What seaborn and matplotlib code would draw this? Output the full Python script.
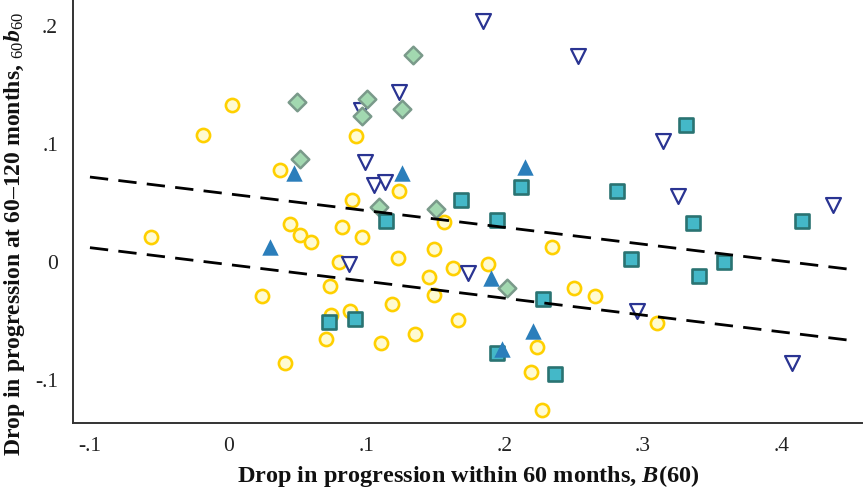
import matplotlib
matplotlib.use("Agg")
import matplotlib.pyplot as plt
import seaborn as sns
import numpy as np
import pandas as pd

# ---- data: B(60) on x, 60b60 on y, one pair of lists per marker group ----
circle_x = [-0.0559, -0.0179, 0.0029, 0.0371, 0.0897, 0.1234, 0.0923, 0.0449, 0.0521,
            0.0598, 0.0820, 0.0970, 0.0801, 0.0733, 0.0241, 0.1486, 0.1230, 0.1628,
            0.1454, 0.1486, 0.1183, 0.0743, 0.0878, 0.1664, 0.0706, 0.1353, 0.1107,
            0.0410, 0.1558, 0.1876, 0.2339, 0.2504, 0.2650, 0.3099, 0.2231, 0.2192,
            0.2270]
circle_y = [0.0213, 0.1073, 0.1327, 0.0779, 0.0522, 0.0596, 0.1064, 0.0319, 0.0226,
            0.0164, 0.0290, 0.0212, -0.0005, -0.0203, -0.0293, 0.0105, 0.0029, -0.0051,
            -0.0132, -0.0282, -0.0361, -0.0454, -0.0417, -0.0494, -0.0655, -0.0610, -0.0691,
            -0.0855, 0.0334, -0.0022, 0.0127, -0.0225, -0.0290, -0.0522, -0.0725, -0.0934,
            -0.1256]

tri_down_x = [0.1840, 0.2533, 0.1237, 0.0957, 0.0991, 0.1053, 0.1136, 0.3143, 0.3256,
              0.4374, 0.0873, 0.1734, 0.2957, 0.4079]
tri_down_y = [0.2042, 0.1744, 0.1439, 0.1285, 0.0844, 0.0652, 0.0672, 0.1025, 0.0556,
              0.0478, -0.0019, -0.0093, -0.0415, -0.0858]

diamond_x = [0.1336, 0.0494, 0.1006, 0.0970, 0.1257, 0.0521, 0.1088, 0.1501, 0.2017]
diamond_y = [0.1748, 0.1350, 0.1375, 0.1234, 0.1296, 0.0872, 0.0466, 0.0446, -0.0225]

square_x = [0.1682, 0.1141, 0.2118, 0.1944, 0.2813, 0.3314, 0.3362, 0.4151, 0.2914,
            0.3589, 0.3406, 0.2277, 0.0731, 0.0919, 0.1946, 0.2364]
square_y = [0.0522, 0.0345, 0.0635, 0.0353, 0.0601, 0.1160, 0.0330, 0.0347, 0.0023,
            -0.0003, -0.0121, -0.0318, -0.0509, -0.0485, -0.0771, -0.0949]

tri_up_x = [0.0475, 0.1259, 0.2149, 0.0304, 0.1901, 0.2207, 0.1978]
tri_up_y = [0.0749, 0.0754, 0.0804, 0.0127, -0.0134, -0.0589, -0.0737]

# fitted lines (end points)
fit_x = [-0.1, 0.448]
fit_upper = [0.0717, -0.0062]
fit_lower = [0.0119, -0.0663]

x_ticks = [-0.1, 0.0, 0.1, 0.2, 0.3, 0.4]
x_tick_labels = ["-.1", "0", ".1", ".2", ".3", ".4"]
y_ticks = [-0.1, 0.0, 0.1, 0.2]
y_tick_labels = ["-.1", "0", ".1", ".2"]

# ---- style ----
sns.set_theme(style="white")
plt.rcParams["font.family"] = ["Liberation Serif", "DejaVu Serif"]
plt.rcParams["mathtext.fontset"] = "custom"
plt.rcParams["mathtext.rm"] = "Liberation Serif"
plt.rcParams["mathtext.it"] = "Liberation Serif:italic"
plt.rcParams["mathtext.bf"] = "Liberation Serif:bold"
plt.rcParams["mathtext.bfit"] = "Liberation Serif:italic:bold"

fig = plt.figure(figsize=(8.64, 4.96), dpi=100)
ax = fig.add_axes([0.0849, 0.1466, 0.913, 0.8534])

groups = [
    (circle_x, circle_y, "o", 90, "#FFFBD2", "#FFD000", 1.9),
    (tri_down_x, tri_down_y, "v", 115, "#FFFFFF", "#2A3492", 1.6),
    (diamond_x, diamond_y, "D", 80, "#A2D8B0", "#7A9A8A", 1.8),
    (square_x, square_y, "s", 100, "#44B8C8", "#2A7372", 1.9),
    (tri_up_x, tri_up_y, "^", 140, "#2B7EBB", "#2B7EBB", 0.0),
]
for gx, gy, mk, size, face, edge, lw in groups:
    df = pd.DataFrame({"x": gx, "y": gy})
    sns.scatterplot(data=df, x="x", y="y", marker=mk, s=size, color=face,
                    edgecolor=edge, linewidth=lw, ax=ax, legend=False, zorder=3)

for fy in (fit_upper, fit_lower):
    line_df = pd.DataFrame({"x": fit_x, "y": fy})
    sns.lineplot(data=line_df, x="x", y="y", color="black", linewidth=2.0,
                 linestyle=(0, (6.6, 3.7)), ax=ax, zorder=4)

ax.set_xlim(-0.112, 0.4585)
ax.set_ylim(-0.1368, 0.2216)
ax.set_xticks(x_ticks)
ax.set_xticklabels(x_tick_labels)
ax.set_yticks(y_ticks)
ax.set_yticklabels(y_tick_labels)
ax.tick_params(axis="both", direction="out", length=7, width=1.2, color="#333333",
               labelsize=15.5, pad=4, labelcolor="#222222")
ax.tick_params(axis="x", pad=3)

for side in ("top", "right"):
    ax.spines[side].set_visible(False)
for side in ("left", "bottom"):
    ax.spines[side].set_color("#333333")
    ax.spines[side].set_linewidth(1.4)

ax.set_xlabel(r"Drop in progression within 60 months, $\mathbfit{B}$(60)",
              fontsize=17.5, fontweight="bold", color="#111111")
ax.set_ylabel(r"Drop in progression at 60–120 months, ${}_{60}\mathbfit{b}_{60}$",
              fontsize=17, fontweight="bold", color="#111111")
ax.xaxis.set_label_coords(0.5, -0.095)
ax.yaxis.set_label_coords(-0.059, 0.447)
ax.grid(False)

fig.savefig("out.png", dpi=100)
